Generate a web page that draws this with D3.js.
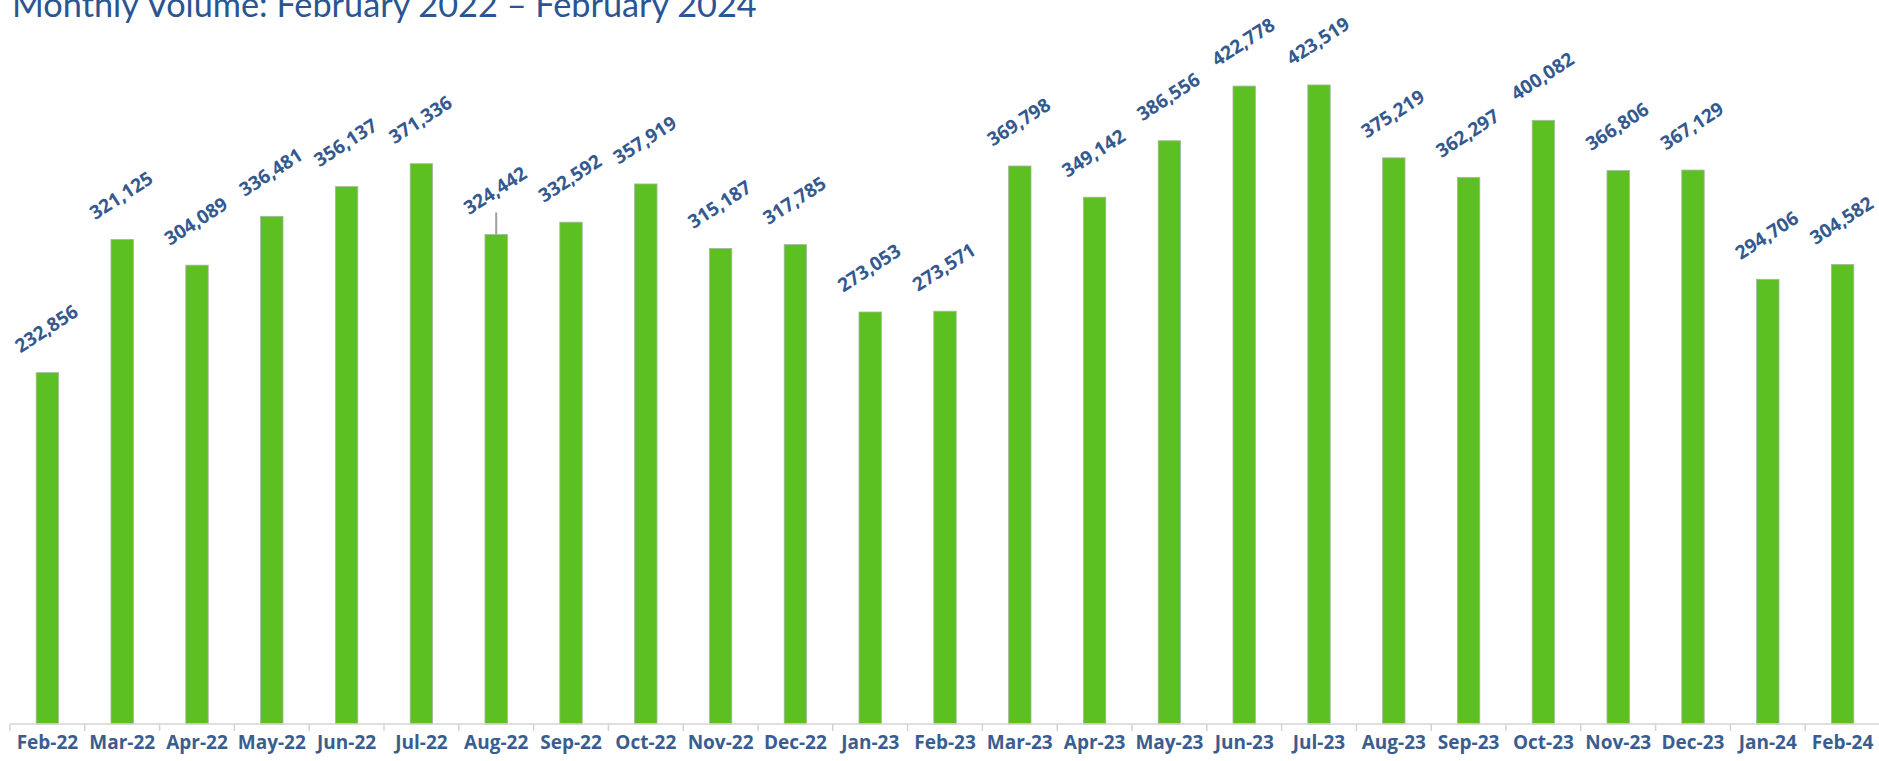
<!DOCTYPE html>
<html>
<head>
<meta charset="utf-8">
<script src="https://cdn.jsdelivr.net/npm/d3@7"></script>
<style>
  html, body { margin: 0; padding: 0; background: #fff; }
  svg { display: block; }
</style>
</head>
<body>
<svg id="chart"></svg>
<script>
const months = ["Feb-22", "Mar-22", "Apr-22", "May-22", "Jun-22", "Jul-22", "Aug-22", "Sep-22", "Oct-22",
    "Nov-22", "Dec-22", "Jan-23", "Feb-23", "Mar-23", "Apr-23", "May-23", "Jun-23", "Jul-23", "Aug-23",
    "Sep-23", "Oct-23", "Nov-23", "Dec-23", "Jan-24", "Feb-24"];
const volumes = [232856, 321125, 304089, 336481, 356137, 371336, 324442, 332592, 357919,
    315187, 317785, 273053, 273571, 369798, 349142, 386556, 422778, 423519, 375219,
    362297, 400082, 366806, 367129, 294706, 304582];
// the little grey whisker sitting on top of Aug-22
const markerMonth = "Aug-22";

const width = 1879;
const height = 761;
const axisY = 724;

const svg = d3.select("#chart")
    .attr("width", width)
    .attr("height", height);

const x = d3.scaleBand()
    .domain(months)
    .range([10, 1880])
    .paddingInner(0.7)
    .paddingOuter(0.35);

const y = d3.scaleLinear()
    .domain([0, 450000])
    .range([axisY, axisY - 679]);

const rows = months.map((m, i) => ({ month: m, value: volumes[i] }));

// title, sized to span the same width as the original
const title = svg.append("text")
    .attr("x", 12)
    .attr("y", 17)
    .attr("fill", "#2b5592")
    .style("font-family", "Lato, 'Open Sans', sans-serif")
    .style("font-size", "30px")
    .text("Monthly Volume: February 2022 \u2013 February 2024");
const tw = title.node().getComputedTextLength();
title.style("font-size", (30 * 745 / tw) + "px");

// bars
svg.append("g")
    .selectAll("rect")
    .data(rows)
    .join("rect")
    .attr("x", d => x(d.month))
    .attr("y", d => y(d.value))
    .attr("width", x.bandwidth())
    .attr("height", d => axisY - y(d.value))
    .attr("fill", "#5cbf22")
    .attr("stroke", "#a9b7a0")
    .attr("stroke-width", 0.8);

// whisker on Aug-22
const mk = rows.find(d => d.month === markerMonth);
svg.append("line")
    .attr("x1", x(mk.month) + x.bandwidth() / 2)
    .attr("x2", x(mk.month) + x.bandwidth() / 2)
    .attr("y1", y(mk.value))
    .attr("y2", y(mk.value) - 22)
    .attr("stroke", "#a0a0a0")
    .attr("stroke-width", 2);

// value labels, rotated
const fmt = d3.format(",");
svg.append("g")
    .selectAll("text")
    .data(rows)
    .join("text")
    .attr("transform", d => {
        const cx = x(d.month) + x.bandwidth() / 2 - 1;
        const cy = y(d.value) - 44;
        return `translate(${cx},${cy}) rotate(-33)`;
    })
    .attr("text-anchor", "middle")
    .attr("dy", "0.35em")
    .attr("fill", "#34598f")
    .style("font-family", "'Open Sans', sans-serif")
    .style("font-weight", "bold")
    .style("font-size", "19px")
    .text(d => fmt(d.value));

// x axis
const xAxis = svg.append("g")
    .attr("transform", `translate(0,${axisY})`)
    .call(d3.axisBottom(x).tickSize(0).tickPadding(12));
xAxis.select(".domain").remove();
xAxis.selectAll("text")
    .attr("fill", "#3a5d8f")
    .style("font-family", "'Open Sans', sans-serif")
    .style("font-weight", "bold")
    .style("font-size", "19px");

svg.append("line")
    .attr("x1", 10).attr("x2", width)
    .attr("y1", axisY).attr("y2", axisY)
    .attr("stroke", "#d4d4d4")
    .attr("stroke-width", 1.5);

// tick marks sit between months
const step = x.step();
const gaps = months.map(m => x(m) - (step - x.bandwidth()) / 2);
svg.append("g")
    .selectAll("line")
    .data(gaps)
    .join("line")
    .attr("x1", d => d).attr("x2", d => d)
    .attr("y1", axisY).attr("y2", axisY + 7)
    .attr("stroke", "#d4d4d4")
    .attr("stroke-width", 1.5);
</script>
</body>
</html>
